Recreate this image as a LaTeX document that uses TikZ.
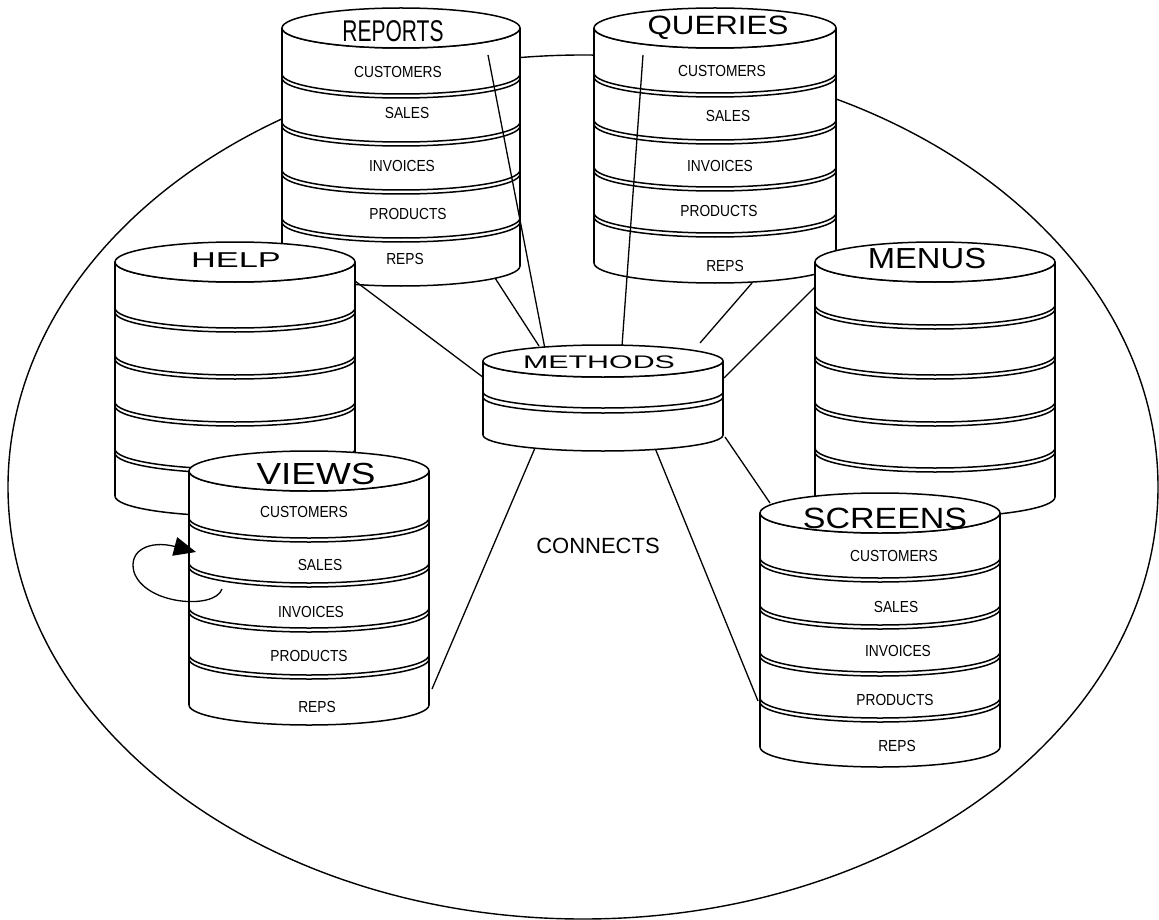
\documentclass[tikz,border=0pt]{standalone}
\usepackage{fontspec}
\setmainfont{Liberation Sans}
\usetikzlibrary{arrows.meta}
\tikzset{
  stk/.style={line width=1.5pt, fill=white, line join=round},
  conn/.style={line width=1.3pt},
  bigring/.style={line width=1.4pt},
  rowlbl/.style={inner sep=0pt, font=\fontsize{16}{16}\selectfont},
  ttl/.style={inner sep=0pt},
}
\newcommand{\rowtxt}[1]{\scalebox{0.86}[1]{#1}}
% #1 cx, #2 rx, #3 ry, #4 top y, #5 bottom y, #6 list top/bottom of disks
\newcommand{\dbstack}[6]{%
  \fill[white] (#1,#4) ellipse[x radius=#2, y radius=#3];
  \fill[white] (#1-#2,#4) rectangle (#1+#2,#5);
  \fill[white] (#1,#5) ellipse[x radius=#2, y radius=#3];
  \foreach \ya/\yb in {#6}{
    \draw[stk] (#1-#2,\ya) -- (#1-#2,\yb)
      arc[start angle=180, end angle=0, x radius=#2, y radius=#3]
      -- (#1+#2,\ya)
      arc[start angle=0, end angle=180, x radius=#2, y radius=#3] -- cycle;
  }
  \draw[line width=1.5pt] (#1-#2,#4) -- (#1-#2,#5);
  \draw[line width=1.5pt] (#1+#2,#4) -- (#1+#2,#5);
  \draw[stk] (#1,#4) ellipse[x radius=#2, y radius=#3];
}
\begin{document}
\begin{tikzpicture}[x=1pt, y=-1pt]
\useasboundingbox[fill=white] (0,0) rectangle (1159,920);

% big enclosing ellipse
\draw[bigring] (583,487) ellipse[x radius=575, y radius=432];

% REPORTS and QUERIES (back row)
\dbstack{401}{119}{20}{28}{266}{28/74,78/122,126/170,174/218,222/266}
\dbstack{715}{121}{20}{28}{263}{28/73,77/120,124/167,171/213,217/263}

\node[ttl] (t-rep) at (393,31) {\fontsize{30}{30}\selectfont\scalebox{0.70}[1]{REPORTS}};
\node[rowlbl] (rep-1) at (398,72) {\rowtxt{CUSTOMERS}};
\node[rowlbl] (rep-2) at (407,113) {\rowtxt{SALES}};
\node[rowlbl] (rep-3) at (402,166) {\rowtxt{INVOICES}};
\node[rowlbl] (rep-4) at (408,214) {\rowtxt{PRODUCTS}};
\node[rowlbl] (rep-5) at (405,259) {\rowtxt{REPS}};

\node[ttl] (t-qry) at (718,28) {\fontsize{26.5}{26.5}\selectfont\scalebox{1.18}[1]{QUERIES}};
\node[rowlbl] (qry-1) at (722,71) {\rowtxt{CUSTOMERS}};
\node[rowlbl] (qry-2) at (728,116) {\rowtxt{SALES}};
\node[rowlbl] (qry-3) at (720,166) {\rowtxt{INVOICES}};
\node[rowlbl] (qry-4) at (719,211) {\rowtxt{PRODUCTS}};
\node[rowlbl] (qry-5) at (725,266) {\rowtxt{REPS}};

% connector end points
\coordinate (rep-in) at (488,55);
\coordinate (rep-bot) at (495,278);
\coordinate (qry-in) at (643,55);
\coordinate (qry-bot) at (752,283);
\coordinate (hlp-r) at (355,281);
\coordinate (mnu-l) at (815,287);
\coordinate (vws-r) at (432,689);
\coordinate (scr-l) at (758,701);
\coordinate (scr-t) at (770,503);
\coordinate (met-t1) at (545,349);
\coordinate (met-t2) at (539,346);
\coordinate (met-t3) at (622,346);
\coordinate (met-t4) at (700,343);
\coordinate (met-l) at (484,378);
\coordinate (met-r) at (724,378);
\coordinate (met-b1) at (535,448);
\coordinate (met-b2) at (655,448);
\coordinate (met-br) at (725,437);

\draw[conn] (rep-in) -- (met-t1);
\draw[conn] (rep-bot) -- (met-t2);
\draw[conn] (qry-in) -- (met-t3);
\draw[conn] (qry-bot) -- (met-t4);
\draw[conn] (hlp-r) -- (met-l);
\draw[conn] (mnu-l) -- (met-r);
\draw[conn] (met-b1) -- (vws-r);
\draw[conn] (met-b2) -- (scr-l);
\draw[conn] (met-br) -- (scr-t);

% HELP, MENUS, METHODS
\dbstack{235}{120}{20}{262}{496}{262/308,312/355,359/402,406/449,453/496}
\node[ttl] (t-hlp) at (236,260) {\fontsize{21.5}{21.5}\selectfont\scalebox{1.6}[1]{HELP}};

\dbstack{935}{120}{20}{262}{497}{262/305,309/355,359/402,406/448,452/497}
\node[ttl] (t-mnu) at (927,259) {\fontsize{29}{29}\selectfont\scalebox{1.13}[1]{MENUS}};

\dbstack{603}{120}{16}{361}{435}{361/392,397/435}
\node[ttl] (t-met) at (599,362) {\fontsize{18.2}{18.2}\selectfont\scalebox{1.67}[1]{METHODS}};

% VIEWS and SCREENS (front)
\dbstack{309}{120}{20}{471}{705}{471/518,522/563,567/608,612/655,659/705}
\node[ttl] (t-vws) at (316,474) {\fontsize{30.5}{30.5}\selectfont\scalebox{1.21}[1]{VIEWS}};
\node[rowlbl] (vws-1) at (304,512) {\rowtxt{CUSTOMERS}};
\node[rowlbl] (vws-2) at (320,565) {\rowtxt{SALES}};
\node[rowlbl] (vws-3) at (311,612) {\rowtxt{INVOICES}};
\node[rowlbl] (vws-4) at (309,656) {\rowtxt{PRODUCTS}};
\node[rowlbl] (vws-5) at (317,707) {\rowtxt{REPS}};

\dbstack{880}{120}{20}{513}{747}{513/558,562/605,609/652,656/698,702/747}
\node[ttl] (t-scr) at (885,518) {\fontsize{29.3}{29.3}\selectfont\scalebox{1.16}[1]{SCREENS}};
\node[rowlbl] (scr-1) at (894,556) {\rowtxt{CUSTOMERS}};
\node[rowlbl] (scr-2) at (896,607) {\rowtxt{SALES}};
\node[rowlbl] (scr-3) at (898,651) {\rowtxt{INVOICES}};
\node[rowlbl] (scr-4) at (895,700) {\rowtxt{PRODUCTS}};
\node[rowlbl] (scr-5) at (897,746) {\rowtxt{REPS}};

% self loop on VIEWS
\coordinate (loop-s) at (222,589);
\coordinate (loop-e) at (196,552);
\draw[line width=1.3pt, -{Triangle[length=22pt, width=19pt]}]
  (loop-s) .. controls (215,610) and (145,605) .. (134,572)
  .. controls (128,550) and (150,540) .. (loop-e);

\node[inner sep=0pt, font=\fontsize{22}{22}\selectfont] (conn) at (598,546) {CONNECTS};
\end{tikzpicture}
\end{document}
